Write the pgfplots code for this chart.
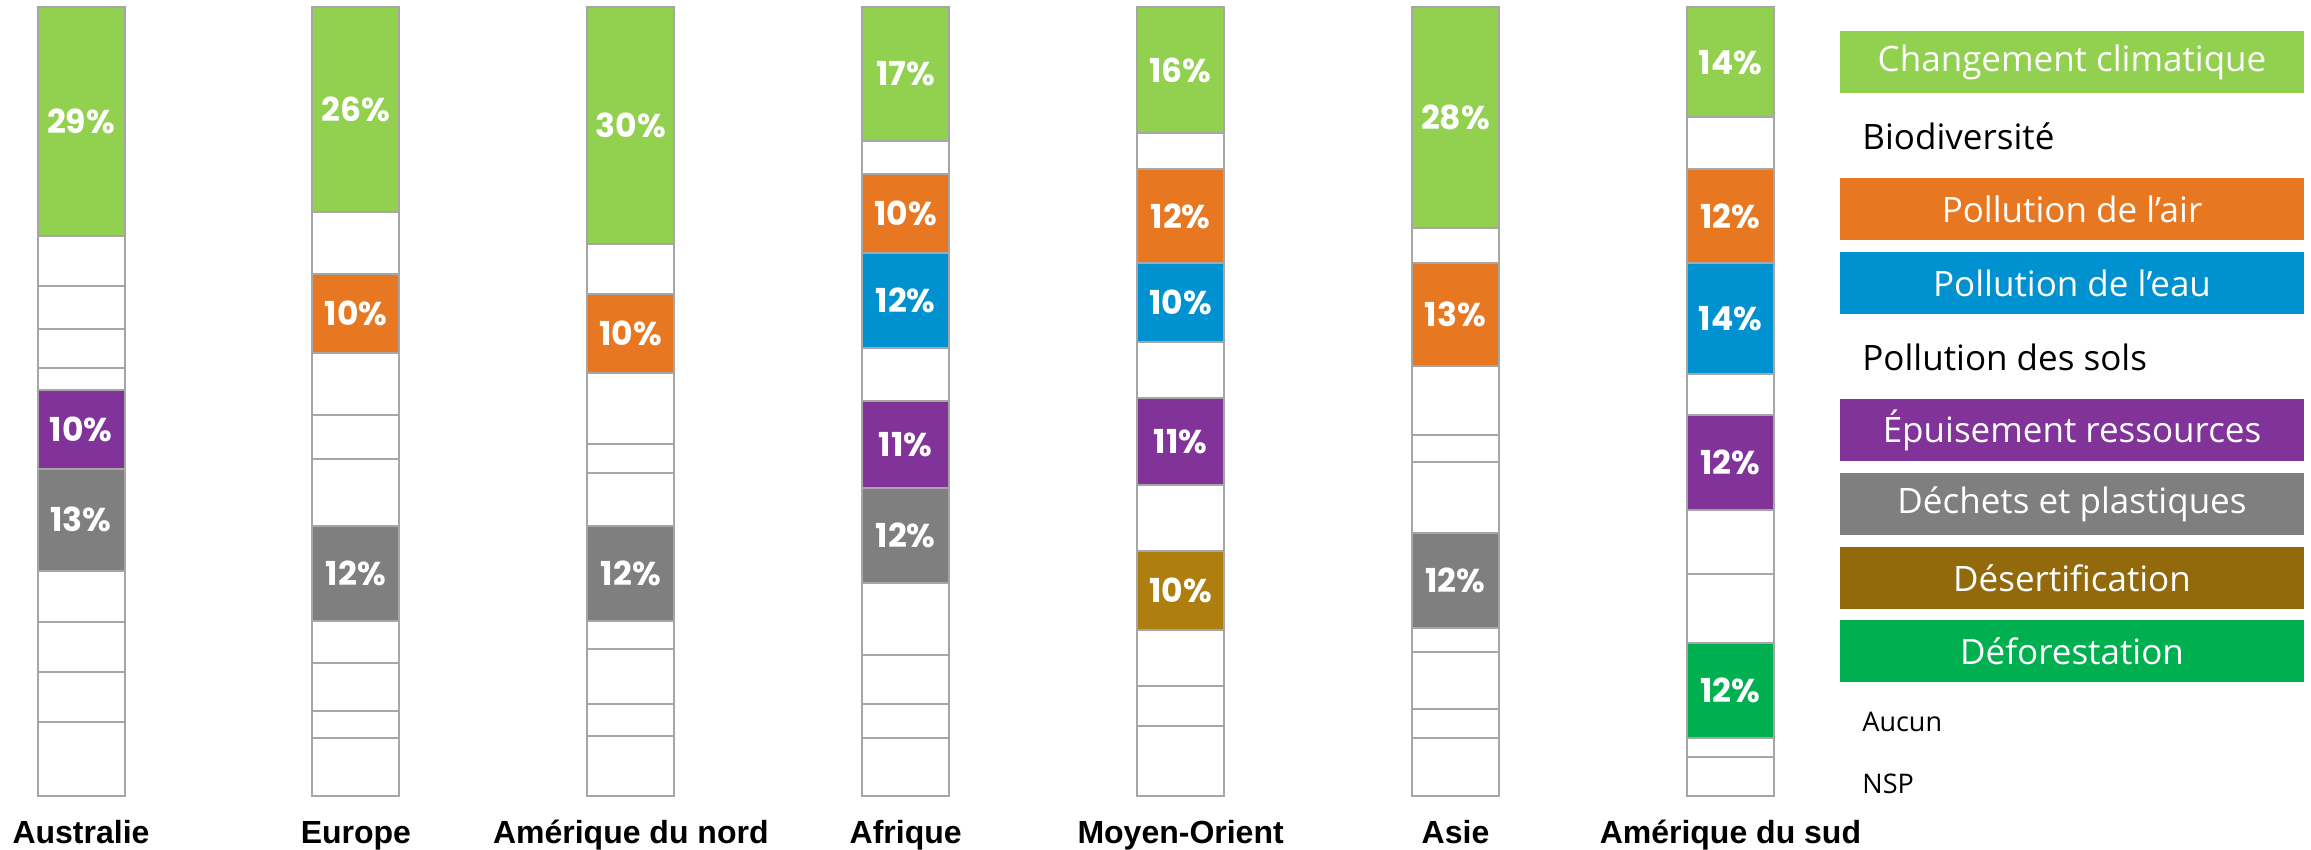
\documentclass[border=0pt]{standalone}
\usepackage{pgfplots}
\pgfplotsset{compat=1.18}
\usepackage{pgfplotstable}
\usepackage{fontspec}
\setmainfont{Open Sans}
\newfontfamily\catfont{Liberation Sans}
\newfontfamily\pctfont{Poppins}

\definecolor{ccg}{HTML}{92D050}
\definecolor{airo}{HTML}{E87722}
\definecolor{eaub}{HTML}{0092D0}
\definecolor{epup}{HTML}{813399}
\definecolor{decg}{HTML}{7F7F7F}
\definecolor{desb}{HTML}{AE7F0E}
\definecolor{desl}{HTML}{926A0C}
\definecolor{defg}{HTML}{00B050}
\definecolor{edge}{HTML}{A6A6A6}

% share of each answer per region, bottom of the stack is nsp
\pgfplotstableread{
id cc bio air eau sols epu dec des def auc nsp
0 29 6.4 5.4 4.9 2.8 10 13 6.4 6.4 6.3 9.4
1 26 7.8 10 7.9 5.6 8.5 12 5.4 6.0 3.4 7.4
2 30 6.4 10 9.0 3.7 6.7 12 3.6 6.9 4.1 7.6
3 17 4.2 10 12 6.8 11 12 9.1 6.3 4.2 7.4
4 16 4.5 12 10 7.1 11 8.4 10 7.1 5.0 8.9
5 28 4.5 13 8.8 3.4 9.0 12 3.0 7.3 3.6 7.4
6 14 6.5 12 14 5.2 12 8.2 8.7 12 2.4 5.0
}\data

\newcommand\pctsize{\pctfont\bfseries\fontsize{16.5pt}{19pt}\selectfont}
\newcommand\legfont{\fontsize{17.5pt}{21pt}\selectfont}

% segments of 10% or more are coloured and labelled
\newcommand\segc[2]{%
  \addplot[fill=#1, draw=edge, line width=1pt,
    nodes near coords={\pgfmathfloatifflags{\pgfplotspointmeta}{0}{}{\pgfmathprintnumber{\pgfplotspointmeta}\%}},
    every node near coord/.style={font=\pctsize, text=white, anchor=center}]
    table[x=id, y expr={\thisrow{#2}>=10 ? \thisrow{#2} : 0}] {\data};}
\newcommand\segw[1]{%
  \addplot[fill=white, draw=edge, line width=1pt]
    table[x=id, y expr={\thisrow{#1}<10 ? \thisrow{#1} : 0}] {\data};}
\newcommand\sega[1]{%
  \addplot[fill=white, draw=edge, line width=1pt] table[x=id, y=#1] {\data};}

\newcommand\legc[3]{\node[fill=#2, minimum width=232pt, minimum height=31pt, inner sep=0pt,
  text=white, font=\legfont] at (1036pt,#1) {#3};}
\newcommand\legt[3]{\node[anchor=west, inner sep=0pt, font=#2] at (931pt,#1) {#3};}

\begin{document}
\begin{tikzpicture}
\path[use as bounding box] (0,0) rectangle (1155.5pt,425pt);
\begin{axis}[
  at={(0pt,27pt)}, anchor=south west,
  disabledatascaling,
  x=137.45pt, y=3.945pt,
  xmin=-0.2947, xmax=6.5, ymin=0, ymax=100,
  enlargelimits=false,
  ybar stacked, bar width=43.5pt,
  axis line style={draw=none}, tick style={draw=none},
  ytick=\empty, xtick={0,...,6},
  xticklabels={Australie,Europe,Amérique du nord,Afrique,Moyen-Orient,Asie,Amérique du sud},
  xticklabel style={font=\catfont\bfseries\fontsize{16pt}{19pt}\selectfont, anchor=base, yshift=-23.5pt},
  clip=false,
  /pgf/number format/assume math mode=true,
]
\sega{nsp}
\sega{auc}
\segc{defg}{def}\segw{def}
\segc{desb}{des}\segw{des}
\segc{decg}{dec}\segw{dec}
\segc{epup}{epu}\segw{epu}
\sega{sols}
\segc{eaub}{eau}\segw{eau}
\segc{airo}{air}\segw{air}
\sega{bio}
\segc{ccg}{cc}
\end{axis}

\legc{394pt}{ccg}{Changement climatique}
\legt{357pt}{\legfont}{Biodiversité}
\legc{320.5pt}{airo}{Pollution de l’air}
\legc{283.5pt}{eaub}{Pollution de l’eau}
\legt{246.5pt}{\legfont}{Pollution des sols}
\legc{210pt}{epup}{Épuisement ressources}
\legc{173pt}{decg}{Déchets et plastiques}
\legc{136pt}{desl}{Désertification}
\legc{99.5pt}{defg}{Déforestation}
\legt{64pt}{\fontsize{13.5pt}{16pt}\selectfont}{Aucun}
\legt{33pt}{\fontsize{13.5pt}{16pt}\selectfont}{NSP}
\end{tikzpicture}
\end{document}
